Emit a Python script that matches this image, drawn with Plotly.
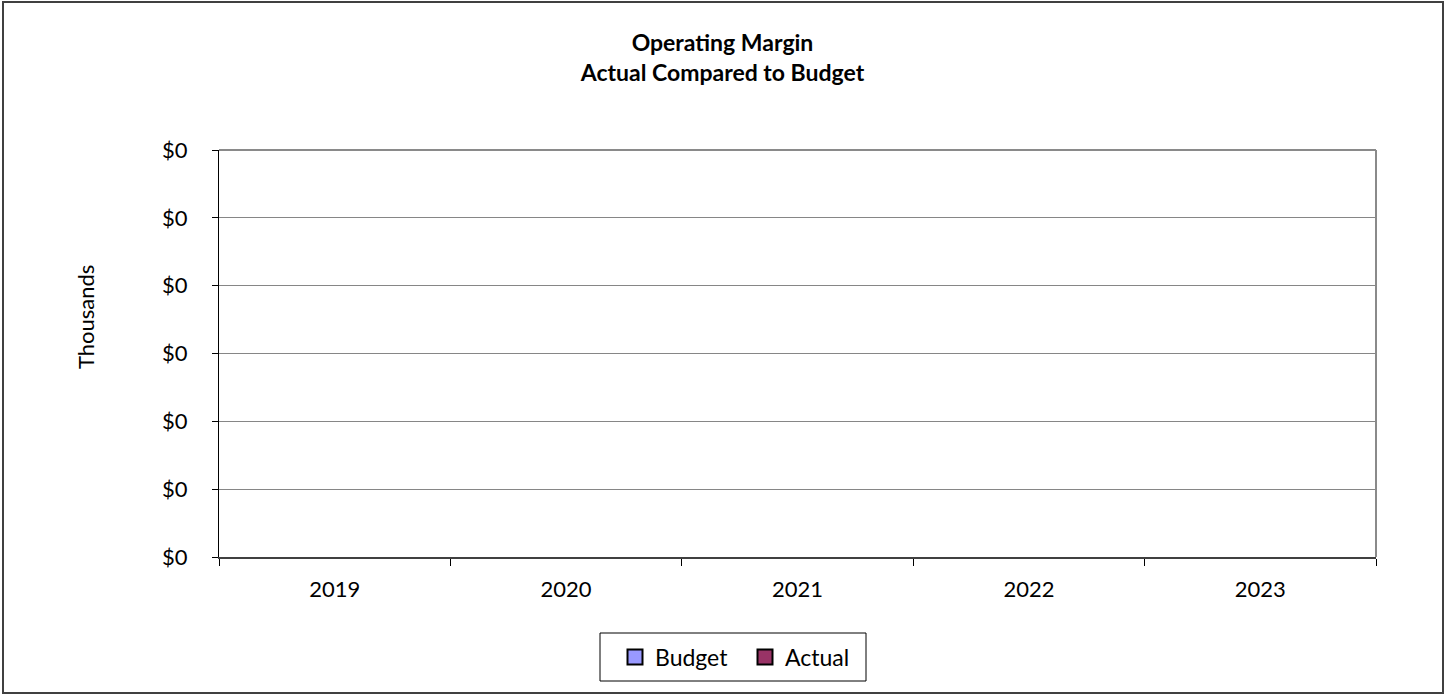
import plotly.graph_objects as go

years = ["2019", "2020", "2021", "2022", "2023"]
budget = [0, 0, 0, 0, 0]
actual = [0, 0, 0, 0, 0]
y_tick_values = [0, 0.0001, 0.0002, 0.0003, 0.0004, 0.0005, 0.0006]
y_tick_labels = ["$0", "$0", "$0", "$0", "$0", "$0", "$0"]
series_names = ["Budget", "Actual"]
series_colors = ["#9999FF", "#993366"]

FONT = "Lato, Carlito, Calibri, sans-serif"
TICK = 22

fig = go.Figure()
for name, vals, col in zip(series_names, [budget, actual], series_colors):
    fig.add_trace(go.Bar(name=name, x=years, y=vals, showlegend=False,
                         legendgroup=name,
                         marker=dict(color=col, line=dict(width=0))))
# legend proxies (square swatch with black border, like the reference legend keys)
for name, col in zip(series_names, series_colors):
    fig.add_trace(go.Scatter(name=name, x=[years[0]], y=[None], mode="markers",
                             legendgroup=name, showlegend=True, hoverinfo="skip",
                             marker=dict(symbol="square", size=15, color=col,
                                         line=dict(color="black", width=2))))

PW, PH = 1157, 407

fig.update_layout(
    width=1445, height=694,
    margin=dict(l=219, r=69, t=150, b=137),
    paper_bgcolor="white", plot_bgcolor="white",
    font=dict(family=FONT, size=TICK, color="black"),
    title=dict(text="<b>Operating Margin<br>Actual Compared to Budget</b>",
               x=0.5, xanchor="center", y=1 - 51 / 694, yanchor="top",
               font=dict(family=FONT, size=23, color="black")),
    barmode="group",
    showlegend=True,
    legend=dict(orientation="h", x=(745 - 219) / PW, xanchor="center",
                y=-(657 - 557) / PH, yanchor="middle",
                borderwidth=0, bgcolor="rgba(0,0,0,0)",
                font=dict(family=FONT, size=23), itemwidth=30,
                entrywidth=85, entrywidthmode="pixels",
                traceorder="normal", itemclick=False, itemdoubleclick=False),
    xaxis=dict(type="category", showgrid=False, showline=True, linecolor="#404040", linewidth=2,
               ticks="outside", tickson="boundaries", ticklen=7, tickcolor="black",
               ticklabelstandoff=12,
               tickfont=dict(family=FONT, size=TICK), mirror=False),
    yaxis=dict(range=[0, 0.0006], tickvals=y_tick_values, ticktext=y_tick_labels,
               showgrid=True, gridcolor="#868686", gridwidth=1,
               showline=True, linecolor="black", linewidth=1,
               ticks="outside", ticklen=6, tickcolor="black", ticklabelstandoff=20,
               zeroline=False, tickfont=dict(family=FONT, size=TICK)),
    shapes=[
        dict(type="line", xref="paper", yref="paper", x0=0, x1=1, y0=1, y1=1,
             line=dict(color="#8a8a8a", width=2)),
        dict(type="line", xref="paper", yref="paper", x0=1, x1=1, y0=0, y1=1,
             line=dict(color="#8a8a8a", width=2)),
        # outer chart border
        dict(type="rect", xref="paper", yref="paper",
             x0=-216 / PW, x1=1 + 67 / PW, y0=-136 / PH, y1=1 + 148 / PH,
             line=dict(color="#404040", width=2)),
        # legend frame
        dict(type="rect", xref="paper", yref="paper",
             x0=(600 - 219) / PW, x1=(866 - 219) / PW,
             y0=-(681 - 557) / PH, y1=-(633 - 557) / PH,
             line=dict(color="black", width=1)),
    ],
    annotations=[
        dict(text="Thousands", xref="paper", yref="paper", x=(85 - 219) / PW, y=(557 - 317) / PH,
             textangle=-90, showarrow=False, xanchor="center", yanchor="middle",
             font=dict(family=FONT, size=TICK, color="black")),
    ],
)

fig.write_html("out.html")
